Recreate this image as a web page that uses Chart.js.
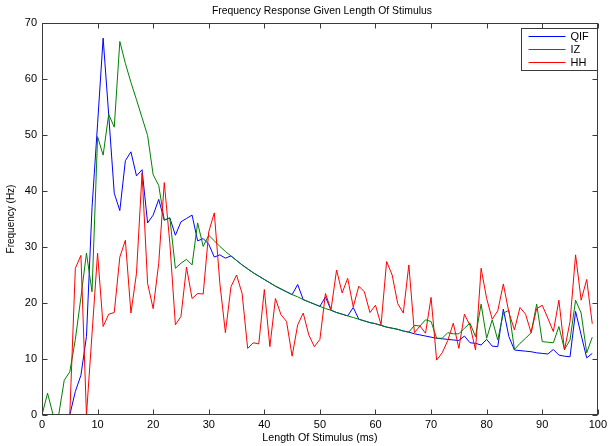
<!DOCTYPE html>
<html>
<head>
<meta charset="utf-8">
<script src="https://cdn.jsdelivr.net/npm/chart.js@4.4.1/dist/chart.umd.min.js"></script>
<style>
  html, body { margin: 0; padding: 0; background: #ffffff; }
  #wrap { width: 610px; height: 446px; position: relative; }
</style>
</head>
<body>
<div id="wrap"><canvas id="c" width="610" height="446"></canvas></div>
<script>
// ---- data ----
const chartTitle = "Frequency Response Given Length Of Stimulus";
const xLabel = "Length Of Stimulus (ms)";
const yLabel = "Frequency (Hz)";
const seriesNames = ["QIF", "IZ", "HH"];

const stimulusLength = [
  0,1,2,3,4,5,6,7,8,9,10,11,12,13,14,15,16,17,18,19,
  20,21,22,23,24,25,26,27,28,29,30,31,32,33,34,35,36,37,38,39,
  40,41,42,43,44,45,46,47,48,49,50,51,52,53,54,55,56,57,58,59,
  60,61,62,63,64,65,66,67,68,69,70,71,72,73,74,75,76,77,78,79,
  80,81,82,83,84,85,86,87,88,89,90,91,92,93,94,95,96,97,98,99
];

const qif = [
  0,0,0,0,0,0,4.2,7.1,14,37,52,67.3,53.6,39.6,36.5,45.4,47.0,42.7,43.8,34.3,
  35.7,38.5,34.8,35.2,32.1,34.5,35.1,35.7,31.1,31.5,30.5,28.2,28.6,28.0,28.4,27.6,26.8,26.1,25.4,24.8,
  24.2,23.6,23.0,22.5,22.0,21.5,23.3,20.6,20.2,19.8,19.4,21.1,18.7,18.3,18.0,17.7,19.2,17.1,16.8,16.5,
  16.3,16.0,15.7,15.5,15.3,15.0,14.8,14.5,14.3,14.1,13.9,13.7,13.6,13.5,13.4,13.3,14.1,12.9,12.8,12.5,
  13.5,12.3,12.2,18.9,14.0,11.6,11.5,11.4,11.3,11.1,11.0,10.9,11.7,10.7,10.5,10.4,18.5,14.3,10.2,11.0
];

const iz = [
  0,3.9,0,0,6.2,7.7,13.5,21,28.9,22.0,49.7,46.4,53.7,51.4,66.7,62.8,59.4,56.3,53.1,49.9,
  42.9,41.0,34.8,35.2,26.2,27.1,27.8,26.8,34.3,30.1,32.1,31.1,30.1,29.2,28.4,27.6,26.8,26.1,25.4,24.8,
  24.2,23.6,23.0,22.5,22.0,21.5,21.1,20.6,20.2,19.8,19.4,19.0,18.7,18.3,18.0,17.7,17.4,17.1,16.8,16.5,
  16.3,16.0,15.7,15.5,15.3,15.0,14.8,16.0,15.9,17.0,16.7,13.7,13.7,14.7,14.5,14.5,15.5,16.4,14.0,19.8,
  13.7,17.0,13.4,18.2,18.7,11.7,12.8,13.7,14.7,19.8,13.1,13.0,12.9,15.8,11.7,13.4,20.5,18.2,11.1,13.9
];

const hh = [
  0,0,0,0,0,0,26.2,28.5,0,14.5,28.9,15.8,18.0,18.3,28.2,31.2,18.2,25.3,43.2,23.5,
  19.0,27.1,41.5,30.7,16.1,17.6,26.4,20.8,21.7,21.6,32.7,36.1,23.5,14.7,22.9,25.0,21.7,11.9,12.9,12.7,
  22.4,12.2,20.8,17.9,16.7,10.5,16.1,18.2,14.3,12.2,13.5,21.7,18.8,25.9,21.8,24.4,19.3,23.0,22.0,18.3,
  19.6,16.1,27.4,25.0,19.9,18.2,26.8,14.7,15.9,14.6,21.0,9.8,11.1,13.3,16.4,11.9,18.0,16.0,11.6,26.2,
  20.8,17.1,18.6,23.4,18.3,15.2,19.2,18.0,14.7,19.0,19.6,17.3,14.9,20.5,11.6,16.7,28.6,20.5,24.2,16.3
];

const xTicks = [0,10,20,30,40,50,60,70,80,90,100];
const yTicks = [0,10,20,30,40,50,60,70];

// ---- styles ----
const seriesColors = ["#0000ff", "#008000", "#ff0000"];
const axisColor = "#3a3a3a";
const FONT = "'Liberation Sans', Arial, Helvetica, sans-serif";

function toPoints(xs, ys) { return xs.map((x, i) => ({ x: x, y: ys[i] })); }

const seriesValues = [qif, iz, hh];
const datasets = seriesNames.map((name, i) => ({
  label: name,
  data: toPoints(stimulusLength, seriesValues[i]),
  borderColor: seriesColors[i],
  backgroundColor: seriesColors[i],
  borderWidth: 1,
  pointRadius: 0,
  tension: 0,
  fill: false,
  order: seriesNames.length - i   // later series drawn on top, as in the reference
}));

const framePlugin = {
  id: 'frame',
  afterDatasetsDraw(chart) {
    const { ctx, chartArea: a, scales } = chart;
    const xs = scales.x, ys = scales.y;
    const L = Math.round(a.left) + 0.5, R = Math.round(a.right) - 0.5;
    const T = Math.round(a.top) + 0.5, B = Math.round(a.bottom) - 0.5;
    ctx.save();
    ctx.strokeStyle = axisColor;
    ctx.lineWidth = 1;
    ctx.strokeRect(L, T, R - L, B - T);
    const tl = 5;
    ctx.beginPath();
    xTicks.forEach(v => {
      const px = Math.round(xs.getPixelForValue(v)) + 0.5;
      ctx.moveTo(px, B); ctx.lineTo(px, B - tl);
      ctx.moveTo(px, T); ctx.lineTo(px, T + tl);
    });
    yTicks.forEach(v => {
      const py = Math.round(ys.getPixelForValue(v)) + 0.5;
      ctx.moveTo(L, py); ctx.lineTo(L + tl, py);
      ctx.moveTo(R, py); ctx.lineTo(R - tl, py);
    });
    ctx.stroke();

    // title
    ctx.fillStyle = "#000";
    ctx.font = "10.4px " + FONT;
    ctx.textAlign = "center";
    ctx.textBaseline = "middle";
    ctx.fillText(chartTitle, (a.left + a.right) / 2 + 2, a.top - 12);

    // legend
    const bw = 76, bh = 42;
    const bx = Math.round(a.right) - 1 - bw + 0.5, by = Math.round(a.top) + 5 + 0.5;
    ctx.fillStyle = "#fff";
    ctx.fillRect(bx, by, bw, bh);
    ctx.strokeStyle = axisColor;
    ctx.strokeRect(bx, by, bw, bh);
    ctx.textAlign = "left";
    ctx.font = "11px " + FONT;
    seriesNames.forEach((name, i) => {
      const yy = by + 7.5 + i * 13;
      ctx.strokeStyle = seriesColors[i];
      ctx.beginPath();
      ctx.moveTo(bx + 7, Math.round(yy) + 0.5);
      ctx.lineTo(bx + 44, Math.round(yy) + 0.5);
      ctx.stroke();
      ctx.fillStyle = "#000";
      ctx.fillText(name, bx + 49, yy + 0.5);
    });
    ctx.restore();
  }
};

new Chart(document.getElementById('c'), {
  type: 'line',
  data: { datasets: datasets },
  options: {
    responsive: false,
    animation: false,
    devicePixelRatio: 1,
    layout: { padding: { top: 23, right: 10, left: 0, bottom: 0 } },
    plugins: {
      legend: { display: false },
      title: { display: false },
      tooltip: { enabled: false }
    },
    scales: {
      x: {
        type: 'linear',
        min: 0, max: 100,
        afterBuildTicks: s => { s.ticks = xTicks.map(v => ({ value: v })); },
        afterFit: s => { s.height = 31; },
        grid: { display: false, drawTicks: false },
        border: { display: false },
        ticks: { color: '#000', font: { family: FONT, size: 11 }, padding: 3, maxRotation: 0, autoSkip: false },
        title: { display: true, text: xLabel, color: '#000', font: { family: FONT, size: 10.7 }, padding: { top: 0, bottom: 2 } }
      },
      y: {
        type: 'linear',
        min: 0, max: 70,
        afterBuildTicks: s => { s.ticks = yTicks.map(v => ({ value: v })); },
        afterFit: s => { s.width = 42; },
        grid: { display: false, drawTicks: false },
        border: { display: false },
        ticks: { color: '#000', font: { family: FONT, size: 11 }, padding: 5, autoSkip: false },
        title: { display: true, text: yLabel, color: '#000', font: { family: FONT, size: 10 }, padding: { top: 5, bottom: 0 } }
      }
    }
  },
  plugins: [framePlugin]
});
</script>
</body>
</html>
